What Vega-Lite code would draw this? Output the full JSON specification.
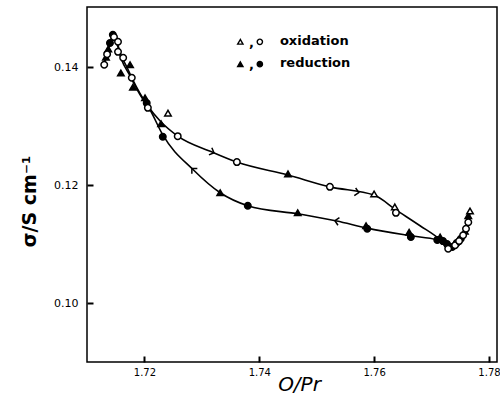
{
  "$schema": "https://vega.github.io/schema/vega-lite/v6.json",
  "width": 410,
  "height": 355,
  "autosize": {"type": "none"},
  "padding": {"left": 87, "top": 7, "right": 3, "bottom": 37},
  "background": "white",
  "config": {
    "font": "DejaVu Sans",
    "view": {"stroke": "black", "strokeWidth": 1.5},
    "axis": {
      "grid": false,
      "labelColor": "black",
      "titleColor": "black",
      "labelFont": "DejaVu Sans",
      "titleFont": "DejaVu Sans",
      "labelFontSize": 11
    }
  },
  "datasets": {
    "curves": [
      {"branch": "oxidation", "O_Pr": 1.7130, "sigma": 0.1404},
      {"branch": "oxidation", "O_Pr": 1.7135, "sigma": 0.1426},
      {"branch": "oxidation", "O_Pr": 1.7140, "sigma": 0.1441},
      {"branch": "oxidation", "O_Pr": 1.7147, "sigma": 0.1453},
      {"branch": "oxidation", "O_Pr": 1.7152, "sigma": 0.1443},
      {"branch": "oxidation", "O_Pr": 1.7159, "sigma": 0.1421},
      {"branch": "oxidation", "O_Pr": 1.7170, "sigma": 0.1399},
      {"branch": "oxidation", "O_Pr": 1.7180, "sigma": 0.1378},
      {"branch": "oxidation", "O_Pr": 1.7192, "sigma": 0.1356},
      {"branch": "oxidation", "O_Pr": 1.7206, "sigma": 0.1334},
      {"branch": "oxidation", "O_Pr": 1.7227, "sigma": 0.1309},
      {"branch": "oxidation", "O_Pr": 1.7258, "sigma": 0.1283},
      {"branch": "oxidation", "O_Pr": 1.7318, "sigma": 0.1256},
      {"branch": "oxidation", "O_Pr": 1.7361, "sigma": 0.1239},
      {"branch": "oxidation", "O_Pr": 1.7450, "sigma": 0.1217},
      {"branch": "oxidation", "O_Pr": 1.7523, "sigma": 0.1197},
      {"branch": "oxidation", "O_Pr": 1.7600, "sigma": 0.1183},
      {"branch": "oxidation", "O_Pr": 1.7638, "sigma": 0.1158},
      {"branch": "oxidation", "O_Pr": 1.7680, "sigma": 0.1131},
      {"branch": "oxidation", "O_Pr": 1.7715, "sigma": 0.1107},
      {"branch": "oxidation", "O_Pr": 1.7729, "sigma": 0.1093},
      {"branch": "oxidation", "O_Pr": 1.7741, "sigma": 0.1098},
      {"branch": "oxidation", "O_Pr": 1.7753, "sigma": 0.1114},
      {"branch": "oxidation", "O_Pr": 1.7762, "sigma": 0.1131},
      {"branch": "oxidation", "O_Pr": 1.7767, "sigma": 0.1153},
      {"branch": "reduction", "O_Pr": 1.7130, "sigma": 0.1407},
      {"branch": "reduction", "O_Pr": 1.7135, "sigma": 0.1424},
      {"branch": "reduction", "O_Pr": 1.7140, "sigma": 0.1441},
      {"branch": "reduction", "O_Pr": 1.7145, "sigma": 0.1453},
      {"branch": "reduction", "O_Pr": 1.7151, "sigma": 0.1443},
      {"branch": "reduction", "O_Pr": 1.7159, "sigma": 0.1416},
      {"branch": "reduction", "O_Pr": 1.7175, "sigma": 0.1385},
      {"branch": "reduction", "O_Pr": 1.7192, "sigma": 0.1354},
      {"branch": "reduction", "O_Pr": 1.7210, "sigma": 0.1327},
      {"branch": "reduction", "O_Pr": 1.7232, "sigma": 0.1285},
      {"branch": "reduction", "O_Pr": 1.7285, "sigma": 0.1226},
      {"branch": "reduction", "O_Pr": 1.7332, "sigma": 0.1187},
      {"branch": "reduction", "O_Pr": 1.7380, "sigma": 0.1165},
      {"branch": "reduction", "O_Pr": 1.7469, "sigma": 0.1151},
      {"branch": "reduction", "O_Pr": 1.7535, "sigma": 0.1139},
      {"branch": "reduction", "O_Pr": 1.7588, "sigma": 0.1127},
      {"branch": "reduction", "O_Pr": 1.7664, "sigma": 0.1114},
      {"branch": "reduction", "O_Pr": 1.7710, "sigma": 0.1107},
      {"branch": "reduction", "O_Pr": 1.7732, "sigma": 0.1097},
      {"branch": "reduction", "O_Pr": 1.7746, "sigma": 0.1105},
      {"branch": "reduction", "O_Pr": 1.7757, "sigma": 0.1122},
      {"branch": "reduction", "O_Pr": 1.7765, "sigma": 0.1149}
    ],
    "points": [
      {"branch": "reduction", "symbol": "triangle", "marker": "filled", "O_Pr": 1.7133, "sigma": 0.1417},
      {"branch": "reduction", "symbol": "triangle", "marker": "filled", "O_Pr": 1.7137, "sigma": 0.1431},
      {"branch": "reduction", "symbol": "circle", "marker": "filled", "O_Pr": 1.7140, "sigma": 0.1441},
      {"branch": "reduction", "symbol": "circle", "marker": "filled", "O_Pr": 1.7145, "sigma": 0.1455},
      {"branch": "reduction", "symbol": "triangle", "marker": "filled", "O_Pr": 1.7159, "sigma": 0.1390},
      {"branch": "reduction", "symbol": "triangle", "marker": "filled", "O_Pr": 1.7175, "sigma": 0.1404},
      {"branch": "reduction", "symbol": "triangle", "marker": "filled", "O_Pr": 1.7180, "sigma": 0.1366},
      {"branch": "reduction", "symbol": "triangle", "marker": "filled", "O_Pr": 1.7201, "sigma": 0.1348},
      {"branch": "reduction", "symbol": "circle", "marker": "filled", "O_Pr": 1.7204, "sigma": 0.1339},
      {"branch": "reduction", "symbol": "triangle", "marker": "filled", "O_Pr": 1.7229, "sigma": 0.1304},
      {"branch": "reduction", "symbol": "circle", "marker": "filled", "O_Pr": 1.7232, "sigma": 0.1282},
      {"branch": "reduction", "symbol": "triangle", "marker": "filled", "O_Pr": 1.7332, "sigma": 0.1187},
      {"branch": "reduction", "symbol": "circle", "marker": "filled", "O_Pr": 1.7380, "sigma": 0.1165},
      {"branch": "reduction", "symbol": "triangle", "marker": "filled", "O_Pr": 1.7467, "sigma": 0.1153},
      {"branch": "reduction", "symbol": "triangle", "marker": "filled", "O_Pr": 1.7586, "sigma": 0.1131},
      {"branch": "reduction", "symbol": "circle", "marker": "filled", "O_Pr": 1.7588, "sigma": 0.1126},
      {"branch": "reduction", "symbol": "triangle", "marker": "filled", "O_Pr": 1.7661, "sigma": 0.1120},
      {"branch": "reduction", "symbol": "circle", "marker": "filled", "O_Pr": 1.7664, "sigma": 0.1112},
      {"branch": "reduction", "symbol": "circle", "marker": "filled", "O_Pr": 1.7710, "sigma": 0.1107},
      {"branch": "reduction", "symbol": "triangle", "marker": "filled", "O_Pr": 1.7715, "sigma": 0.1112},
      {"branch": "reduction", "symbol": "circle", "marker": "filled", "O_Pr": 1.7720, "sigma": 0.1105},
      {"branch": "reduction", "symbol": "circle", "marker": "filled", "O_Pr": 1.7727, "sigma": 0.1100},
      {"branch": "reduction", "symbol": "circle", "marker": "filled", "O_Pr": 1.7736, "sigma": 0.1095},
      {"branch": "reduction", "symbol": "circle", "marker": "filled", "O_Pr": 1.7744, "sigma": 0.1102},
      {"branch": "reduction", "symbol": "circle", "marker": "filled", "O_Pr": 1.7751, "sigma": 0.1109},
      {"branch": "reduction", "symbol": "triangle", "marker": "filled", "O_Pr": 1.7758, "sigma": 0.1122},
      {"branch": "reduction", "symbol": "triangle", "marker": "filled", "O_Pr": 1.7764, "sigma": 0.1148},
      {"branch": "oxidation", "symbol": "circle", "marker": "open", "O_Pr": 1.7130, "sigma": 0.1404},
      {"branch": "oxidation", "symbol": "circle", "marker": "open", "O_Pr": 1.7135, "sigma": 0.1422},
      {"branch": "oxidation", "symbol": "circle", "marker": "open", "O_Pr": 1.7147, "sigma": 0.1451},
      {"branch": "oxidation", "symbol": "circle", "marker": "open", "O_Pr": 1.7154, "sigma": 0.1443},
      {"branch": "oxidation", "symbol": "circle", "marker": "open", "O_Pr": 1.7154, "sigma": 0.1426},
      {"branch": "oxidation", "symbol": "circle", "marker": "open", "O_Pr": 1.7163, "sigma": 0.1416},
      {"branch": "oxidation", "symbol": "circle", "marker": "open", "O_Pr": 1.7178, "sigma": 0.1382},
      {"branch": "oxidation", "symbol": "circle", "marker": "open", "O_Pr": 1.7206, "sigma": 0.1331},
      {"branch": "oxidation", "symbol": "triangle", "marker": "open", "O_Pr": 1.7241, "sigma": 0.1322},
      {"branch": "oxidation", "symbol": "circle", "marker": "open", "O_Pr": 1.7258, "sigma": 0.1283},
      {"branch": "oxidation", "symbol": "circle", "marker": "open", "O_Pr": 1.7361, "sigma": 0.1239},
      {"branch": "oxidation", "symbol": "triangle", "marker": "filled", "O_Pr": 1.7450, "sigma": 0.1219},
      {"branch": "oxidation", "symbol": "circle", "marker": "open", "O_Pr": 1.7523, "sigma": 0.1197},
      {"branch": "oxidation", "symbol": "triangle", "marker": "open", "O_Pr": 1.7600, "sigma": 0.1185},
      {"branch": "oxidation", "symbol": "triangle", "marker": "open", "O_Pr": 1.7636, "sigma": 0.1163},
      {"branch": "oxidation", "symbol": "circle", "marker": "open", "O_Pr": 1.7638, "sigma": 0.1153},
      {"branch": "oxidation", "symbol": "circle", "marker": "open", "O_Pr": 1.7729, "sigma": 0.1092},
      {"branch": "oxidation", "symbol": "circle", "marker": "open", "O_Pr": 1.7741, "sigma": 0.1098},
      {"branch": "oxidation", "symbol": "circle", "marker": "open", "O_Pr": 1.7748, "sigma": 0.1105},
      {"branch": "oxidation", "symbol": "circle", "marker": "open", "O_Pr": 1.7755, "sigma": 0.1115},
      {"branch": "oxidation", "symbol": "circle", "marker": "open", "O_Pr": 1.7760, "sigma": 0.1126},
      {"branch": "oxidation", "symbol": "circle", "marker": "open", "O_Pr": 1.7764, "sigma": 0.1137},
      {"branch": "oxidation", "symbol": "triangle", "marker": "open", "O_Pr": 1.7767, "sigma": 0.1156}
    ],
    "legend_symbols": [
      {"symbol": "triangle", "marker": "open", "O_Pr": 1.7367, "sigma": 0.1443},
      {"symbol": "circle", "marker": "open", "O_Pr": 1.7401, "sigma": 0.1443},
      {"symbol": "triangle", "marker": "filled", "O_Pr": 1.7367, "sigma": 0.1405},
      {"symbol": "circle", "marker": "filled", "O_Pr": 1.7401, "sigma": 0.1405}
    ],
    "legend_text": [
      {"label": ",", "O_Pr": 1.7382, "sigma": 0.1441},
      {"label": ",", "O_Pr": 1.7382, "sigma": 0.1403},
      {"label": "oxidation", "O_Pr": 1.7436, "sigma": 0.1445},
      {"label": "reduction", "O_Pr": 1.7436, "sigma": 0.1407}
    ]
  },
  "encoding": {
    "x": {
      "field": "O_Pr",
      "type": "quantitative",
      "scale": {"domain": [1.71, 1.7814], "nice": false, "zero": false},
      "axis": {
        "values": [1.72, 1.74, 1.76, 1.78],
        "format": ".2f",
        "domain": false,
        "ticks": true,
        "offset": -6,
        "tickSize": 6,
        "tickColor": "black",
        "tickWidth": 2,
        "tickOpacity": 1,
        "labelPadding": 5,
        "labelFontSize": 10,
        "title": "O/Pr",
        "titleFontSize": 20,
        "titleFontStyle": "italic",
        "titleFontWeight": "normal",
        "titleX": 212,
        "titleY": 18,
        "titleBaseline": "top"
      }
    },
    "y": {
      "field": "sigma",
      "type": "quantitative",
      "scale": {"domain": [0.09, 0.1502], "nice": false, "zero": false},
      "axis": {
        "values": [0.10, 0.12, 0.14],
        "format": ".2f",
        "domain": false,
        "ticks": true,
        "offset": -6,
        "tickSize": 6,
        "tickColor": "black",
        "tickWidth": 2,
        "tickOpacity": 1,
        "labelPadding": 9,
        "title": "σ/S cm⁻¹",
        "titleFontSize": 19,
        "titleFontWeight": "bold",
        "titleX": -54,
        "titleY": 194
      }
    }
  },
  "layer": [
    {
      "data": {"name": "curves"},
      "mark": {"type": "line", "color": "black", "strokeWidth": 1.6, "interpolate": "monotone"},
      "encoding": {"detail": {"field": "branch"}}
    },
    {
      "data": {"name": "points"},
      "mark": {"type": "point", "filled": true, "stroke": "black", "strokeWidth": 1.5, "opacity": 1, "size": 42},
      "encoding": {
        "shape": {"field": "symbol", "type": "nominal", "scale": {"domain": ["circle", "triangle"], "range": ["circle", "triangle-up"]}, "legend": null},
        "fill": {"field": "marker", "type": "nominal", "scale": {"domain": ["open", "filled"], "range": ["white", "black"]}, "legend": null}
      }
    },
    {
      "data": {"values": [{"O_Pr": 1.7318, "sigma": 0.1256}]},
      "mark": {"type": "point", "shape": "M-0.5,-1L0.5,0L-0.5,1", "angle": 22, "size": 60, "filled": false, "stroke": "black", "strokeWidth": 1.5, "opacity": 1}
    },
    {
      "data": {"values": [{"O_Pr": 1.7570, "sigma": 0.1188}]},
      "mark": {"type": "point", "shape": "M-0.5,-1L0.5,0L-0.5,1", "angle": 10, "size": 60, "filled": false, "stroke": "black", "strokeWidth": 1.5, "opacity": 1}
    },
    {
      "data": {"values": [{"O_Pr": 1.7285, "sigma": 0.1226}]},
      "mark": {"type": "point", "shape": "M0.5,-1L-0.5,0L0.5,1", "angle": 45, "size": 60, "filled": false, "stroke": "black", "strokeWidth": 1.5, "opacity": 1}
    },
    {
      "data": {"values": [{"O_Pr": 1.7535, "sigma": 0.1139}]},
      "mark": {"type": "point", "shape": "M0.5,-1L-0.5,0L0.5,1", "angle": 11, "size": 60, "filled": false, "stroke": "black", "strokeWidth": 1.5, "opacity": 1}
    },
    {
      "data": {"name": "legend_symbols"},
      "mark": {"type": "point", "filled": true, "stroke": "black", "strokeWidth": 1.4, "opacity": 1, "size": 28},
      "encoding": {
        "shape": {"field": "symbol", "type": "nominal", "legend": null},
        "fill": {"field": "marker", "type": "nominal", "legend": null}
      }
    },
    {
      "data": {"name": "legend_text"},
      "mark": {"type": "text", "align": "left", "baseline": "middle", "fontSize": 13, "fontWeight": "bold", "color": "black", "font": "DejaVu Sans"},
      "encoding": {"text": {"field": "label"}}
    }
  ]
}
